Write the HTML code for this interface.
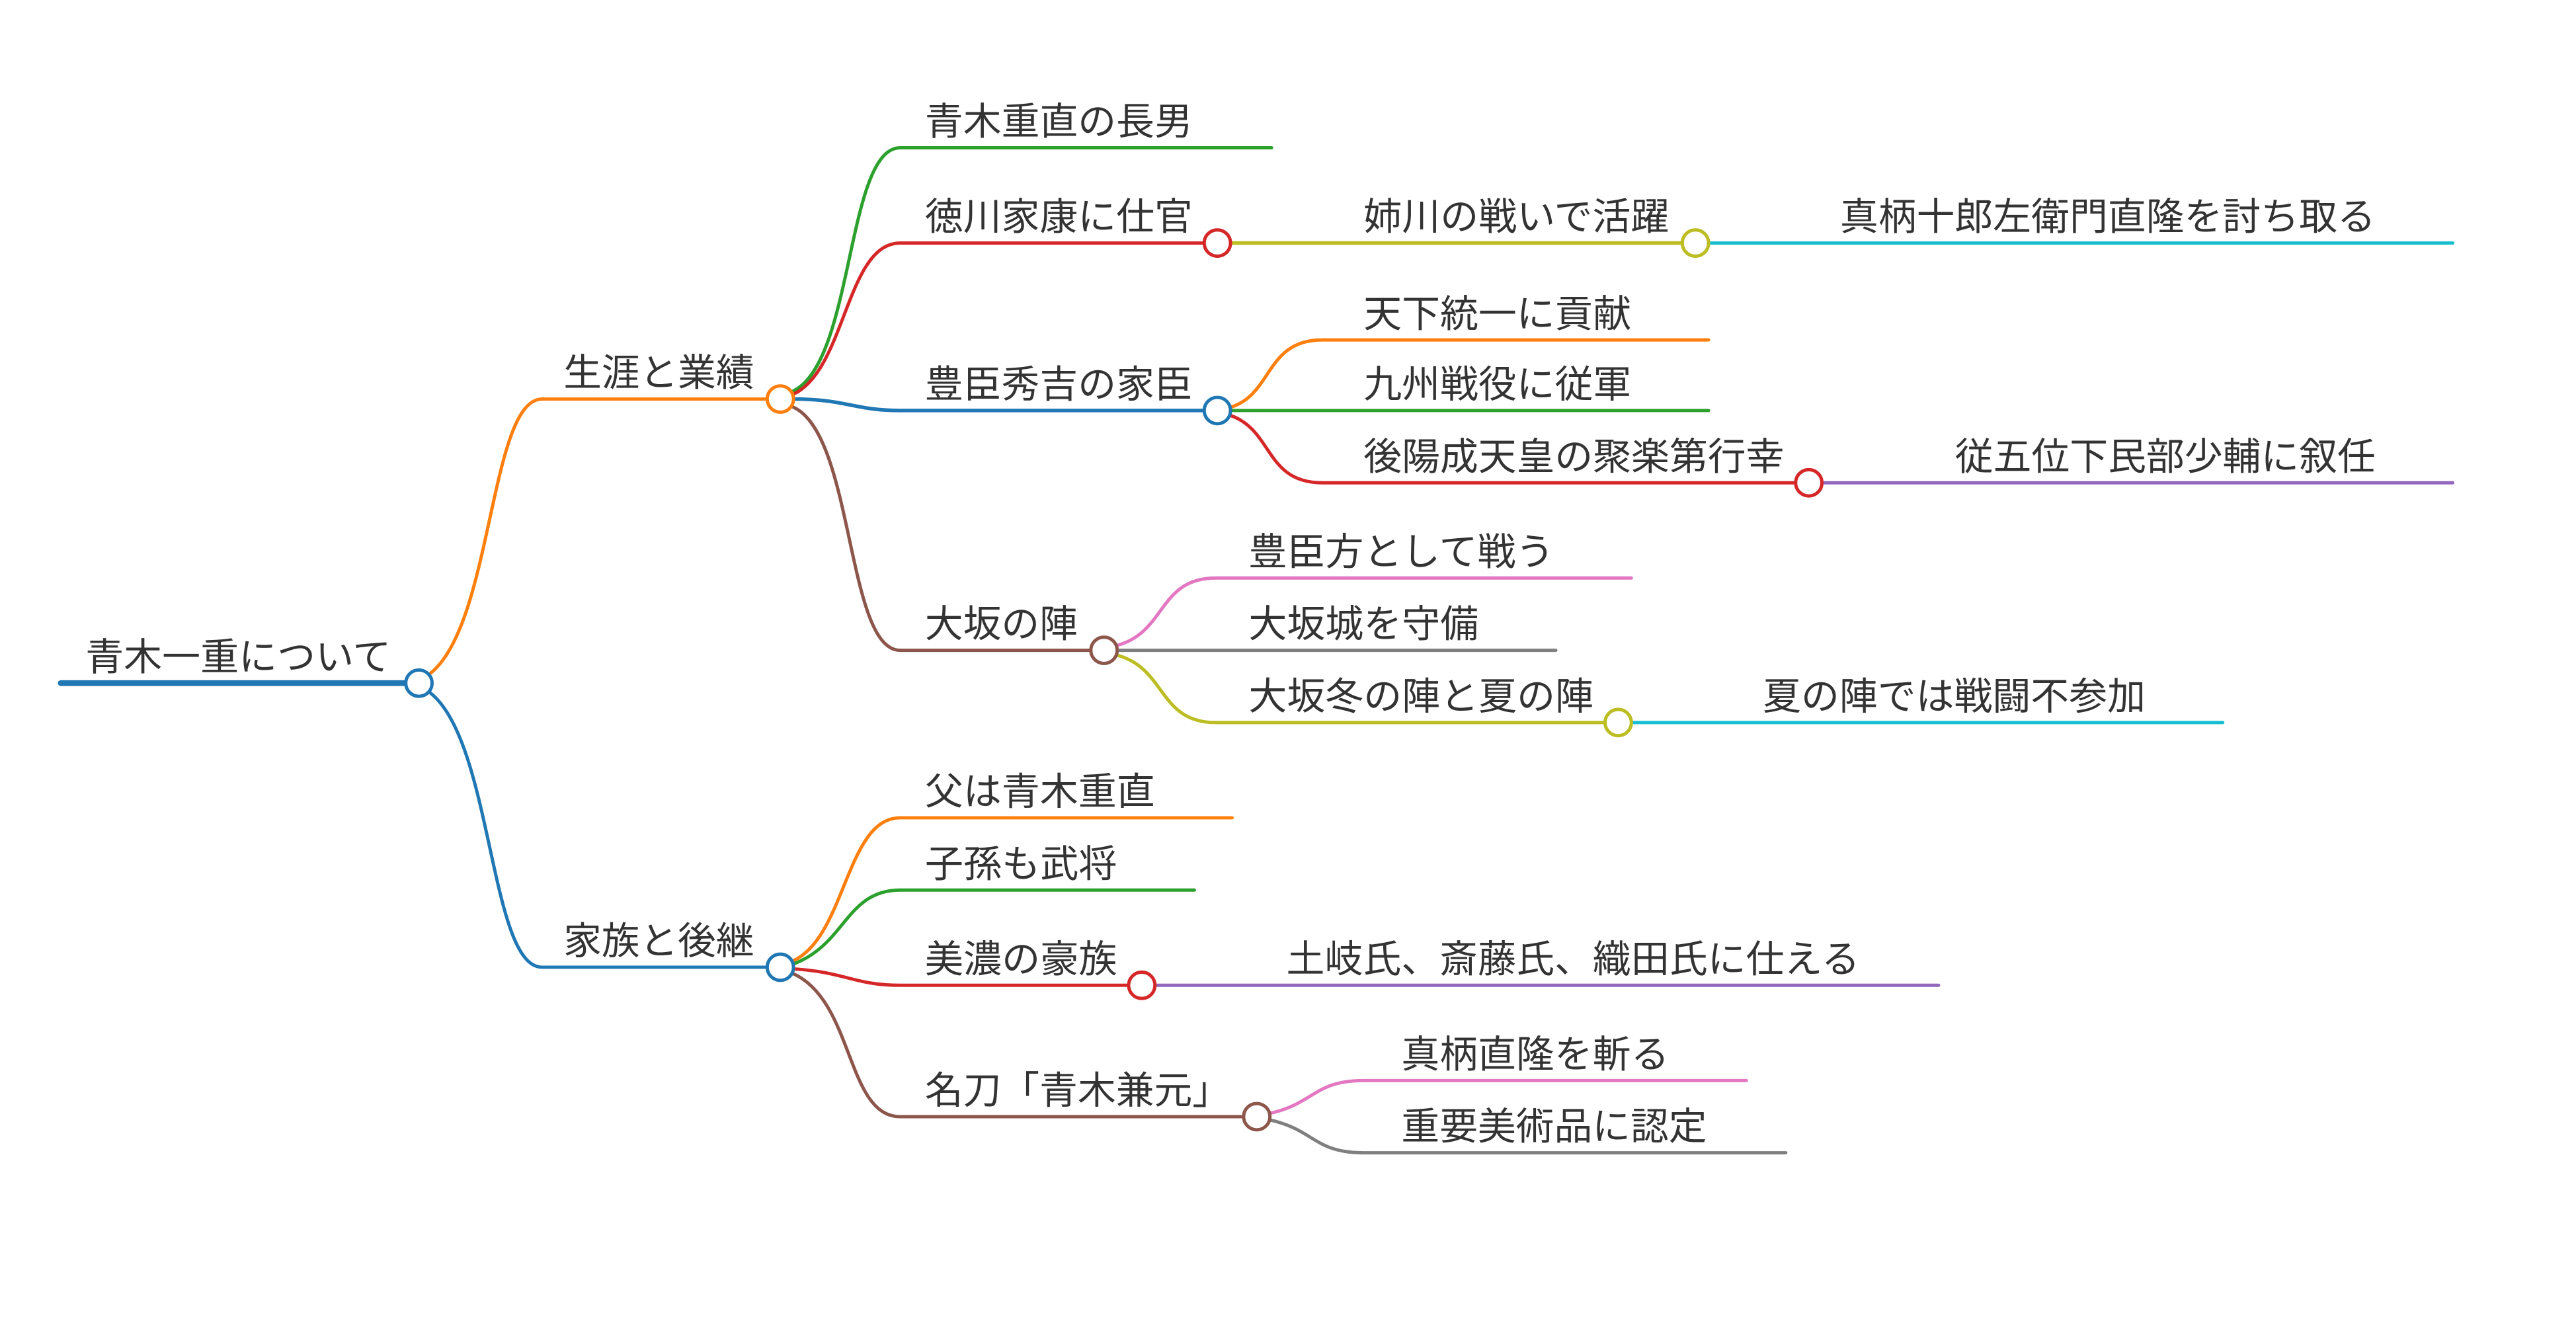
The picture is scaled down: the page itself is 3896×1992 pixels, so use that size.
<!DOCTYPE html>
<html><head><meta charset="utf-8"><style>
html,body{margin:0;padding:0;background:#fff;}
svg{display:block;}
text{font-family:"Liberation Sans","Noto Sans CJK JP",sans-serif;font-size:23px;fill:#333;}
</style></head><body>
<svg width="3896" height="1992" viewBox="0 0 1568 802" preserveAspectRatio="none" xmlns="http://www.w3.org/2000/svg">
<g fill="none" stroke-linecap="round">
<path d="M37 416 H247" stroke="#1f77b4" stroke-width="3.5"/>
<path d="M262 410 C300 380 298 243 330 243 H467" stroke="#ff7f0e" stroke-width="2"/>
<path d="M262 422 C300 452 298 589 330 589 H467" stroke="#1f77b4" stroke-width="2"/>
<path d="M483 238 C520 220 515 90 548 90 H774" stroke="#2ca02c" stroke-width="2"/>
<path d="M483 240 C515 225 515 148 548 148 H733" stroke="#d62728" stroke-width="2"/>
<path d="M483 243 C515 243 520 250 548 250 H733" stroke="#1f77b4" stroke-width="2.2"/>
<path d="M483 248 C520 265 515 396 548 396 H664" stroke="#8c564b" stroke-width="2"/>
<path d="M749 148 H1024" stroke="#bcbd22" stroke-width="2.2"/>
<path d="M1040 148 H1493" stroke="#17becf" stroke-width="2"/>
<path d="M749 248 C775 240 770 207 805 207 H1040" stroke="#ff7f0e" stroke-width="2"/>
<path d="M749 250 H1040" stroke="#2ca02c" stroke-width="2"/>
<path d="M749 253 C775 262 770 294 805 294 H1093" stroke="#d62728" stroke-width="2"/>
<path d="M1109 294 H1493" stroke="#9467bd" stroke-width="2"/>
<path d="M680 393 C710 385 705 352 740 352 H993" stroke="#e377c2" stroke-width="2"/>
<path d="M680 396 H947" stroke="#7f7f7f" stroke-width="2"/>
<path d="M680 399 C710 407 705 440 740 440 H977" stroke="#bcbd22" stroke-width="2"/>
<path d="M993 440 H1353" stroke="#17becf" stroke-width="2"/>
<path d="M483 585 C515 570 515 498 548 498 H750" stroke="#ff7f0e" stroke-width="2"/>
<path d="M483 587 C515 575 515 542 548 542 H727" stroke="#2ca02c" stroke-width="2"/>
<path d="M483 590 C515 592 520 600 548 600 H687" stroke="#d62728" stroke-width="2"/>
<path d="M483 593 C520 610 515 680 548 680 H757" stroke="#8c564b" stroke-width="2"/>
<path d="M703 600 H1180" stroke="#9467bd" stroke-width="2"/>
<path d="M773 678 C800 672 800 658 830 658 H1063" stroke="#e377c2" stroke-width="2"/>
<path d="M773 682 C800 688 800 702 830 702 H1087" stroke="#7f7f7f" stroke-width="2"/>
</g>
<g fill="#fff" stroke-width="2">
<circle cx="255" cy="416" r="8" stroke="#1f77b4"/>
<circle cx="475" cy="243" r="8" stroke="#ff7f0e"/>
<circle cx="475" cy="589" r="8" stroke="#1f77b4"/>
<circle cx="741" cy="148" r="8" stroke="#d62728"/>
<circle cx="1032" cy="148" r="8" stroke="#bcbd22"/>
<circle cx="741" cy="250" r="8" stroke="#1f77b4"/>
<circle cx="1101" cy="294" r="8" stroke="#d62728"/>
<circle cx="672" cy="396" r="8" stroke="#8c564b"/>
<circle cx="985" cy="440" r="8" stroke="#bcbd22"/>
<circle cx="695" cy="600" r="8" stroke="#d62728"/>
<circle cx="765" cy="680" r="8" stroke="#8c564b"/>
</g>
<g>
<text x="52" y="408" textLength="186" lengthAdjust="spacingAndGlyphs">青木一重について</text>
<text x="343" y="235" textLength="116" lengthAdjust="spacingAndGlyphs">生涯と業績</text>
<text x="343" y="581" textLength="116" lengthAdjust="spacingAndGlyphs">家族と後継</text>
<text x="563" y="82" textLength="163" lengthAdjust="spacingAndGlyphs">青木重直の長男</text>
<text x="563" y="140" textLength="163" lengthAdjust="spacingAndGlyphs">徳川家康に仕官</text>
<text x="830" y="140" textLength="186" lengthAdjust="spacingAndGlyphs">姉川の戦いで活躍</text>
<text x="1120" y="140" textLength="326" lengthAdjust="spacingAndGlyphs">真柄十郎左衛門直隆を討ち取る</text>
<text x="563" y="242" textLength="163" lengthAdjust="spacingAndGlyphs">豊臣秀吉の家臣</text>
<text x="830" y="199" textLength="163" lengthAdjust="spacingAndGlyphs">天下統一に貢献</text>
<text x="830" y="242" textLength="163" lengthAdjust="spacingAndGlyphs">九州戦役に従軍</text>
<text x="830" y="286" textLength="256" lengthAdjust="spacingAndGlyphs">後陽成天皇の聚楽第行幸</text>
<text x="1190" y="286" textLength="256" lengthAdjust="spacingAndGlyphs">従五位下民部少輔に叙任</text>
<text x="563" y="388" textLength="93" lengthAdjust="spacingAndGlyphs">大坂の陣</text>
<text x="760" y="344" textLength="186" lengthAdjust="spacingAndGlyphs">豊臣方として戦う</text>
<text x="760" y="388" textLength="140" lengthAdjust="spacingAndGlyphs">大坂城を守備</text>
<text x="760" y="432" textLength="210" lengthAdjust="spacingAndGlyphs">大坂冬の陣と夏の陣</text>
<text x="1073" y="432" textLength="233" lengthAdjust="spacingAndGlyphs">夏の陣では戦闘不参加</text>
<text x="563" y="490" textLength="140" lengthAdjust="spacingAndGlyphs">父は青木重直</text>
<text x="563" y="534" textLength="117" lengthAdjust="spacingAndGlyphs">子孫も武将</text>
<text x="563" y="592" textLength="117" lengthAdjust="spacingAndGlyphs">美濃の豪族</text>
<text x="783" y="592" textLength="349" lengthAdjust="spacingAndGlyphs">土岐氏、斎藤氏、織田氏に仕える</text>
<text x="563" y="672" textLength="186" lengthAdjust="spacingAndGlyphs">名刀「青木兼元」</text>
<text x="853" y="650" textLength="163" lengthAdjust="spacingAndGlyphs">真柄直隆を斬る</text>
<text x="853" y="694" textLength="186" lengthAdjust="spacingAndGlyphs">重要美術品に認定</text>
</g>
</svg>
</body></html>
